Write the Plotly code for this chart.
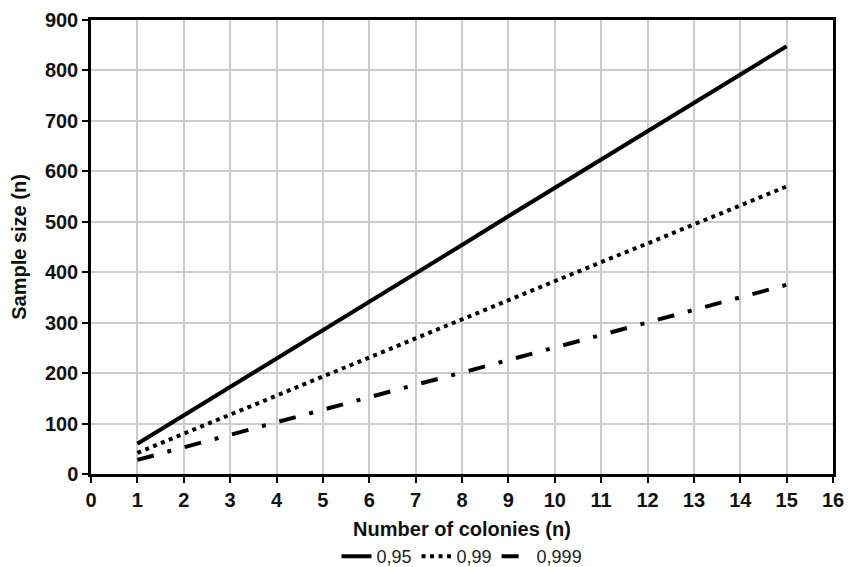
import plotly.graph_objects as go

colonies = list(range(1, 16))
s095 = [60, 116, 173, 229, 285, 341, 398, 454, 511, 567, 623, 679, 736, 792, 848]
s099 = [42, 80, 118, 155, 193, 231, 269, 306, 344, 382, 420, 457, 495, 533, 570]
s0999 = [28, 53, 78, 102, 127, 152, 177, 201, 226, 251, 276, 300, 325, 350, 375]
names = ["0,95", "0,99", "0,999"]
x_ticks = list(range(0, 17))
y_ticks = list(range(0, 901, 100))

FONT = "Liberation Sans, Arial, sans-serif"

fig = go.Figure()
fig.add_trace(go.Scatter(x=colonies, y=s095, mode="lines", name=names[0],
                         line=dict(color="black", width=4, dash="solid")))
fig.add_trace(go.Scatter(x=colonies, y=s099, mode="lines", name=names[1],
                         line=dict(color="black", width=4, dash="4px,4.5px")))
fig.add_trace(go.Scatter(x=colonies, y=s0999, mode="lines", name=names[2],
                         line=dict(color="black", width=4, dash="17px,14px,4px,14px")))

# page body has an 8px default margin, so the figure is offset by it
fig.update_layout(
    width=843, height=559,
    margin=dict(l=83, r=18, t=12, b=93, autoexpand=False),
    plot_bgcolor="white", paper_bgcolor="white",
    font=dict(family=FONT, size=20, color="black"),
    showlegend=True,
    legend=dict(orientation="h", x=0.5, xanchor="center", y=-0.141, yanchor="top",
                font=dict(family=FONT, size=18, color="#222"),
                itemwidth=30, tracegroupgap=0, bgcolor="rgba(0,0,0,0)"),
)
fig.update_xaxes(
    range=[0, 16], tickvals=x_ticks, ticktext=[str(v) for v in x_ticks],
    automargin=False,
    showgrid=True, gridcolor="#cccccc", gridwidth=2,
    showline=True, linecolor="black", linewidth=2.5, mirror=True,
    ticks="outside", ticklen=6, tickwidth=2, tickcolor="black",
    tickfont=dict(family=FONT, size=20, color="#111", weight="bold"),
    title=dict(text="Number of colonies (n)", standoff=13,
               font=dict(family=FONT, size=20, color="#111", weight="bold")),
    zeroline=False,
)
fig.update_yaxes(
    range=[0, 900], tickvals=y_ticks, ticktext=[str(v) for v in y_ticks],
    automargin=False,
    showgrid=True, gridcolor="#cccccc", gridwidth=2,
    showline=True, linecolor="black", linewidth=2.5, mirror=True,
    ticks="outside", ticklen=6, tickwidth=2, tickcolor="black",
    tickfont=dict(family=FONT, size=20, color="#111", weight="bold"),
    title=dict(text="Sample size (n)", standoff=16,
               font=dict(family=FONT, size=20, color="#111", weight="bold")),
    zeroline=False,
)

fig.write_html("out.html")
